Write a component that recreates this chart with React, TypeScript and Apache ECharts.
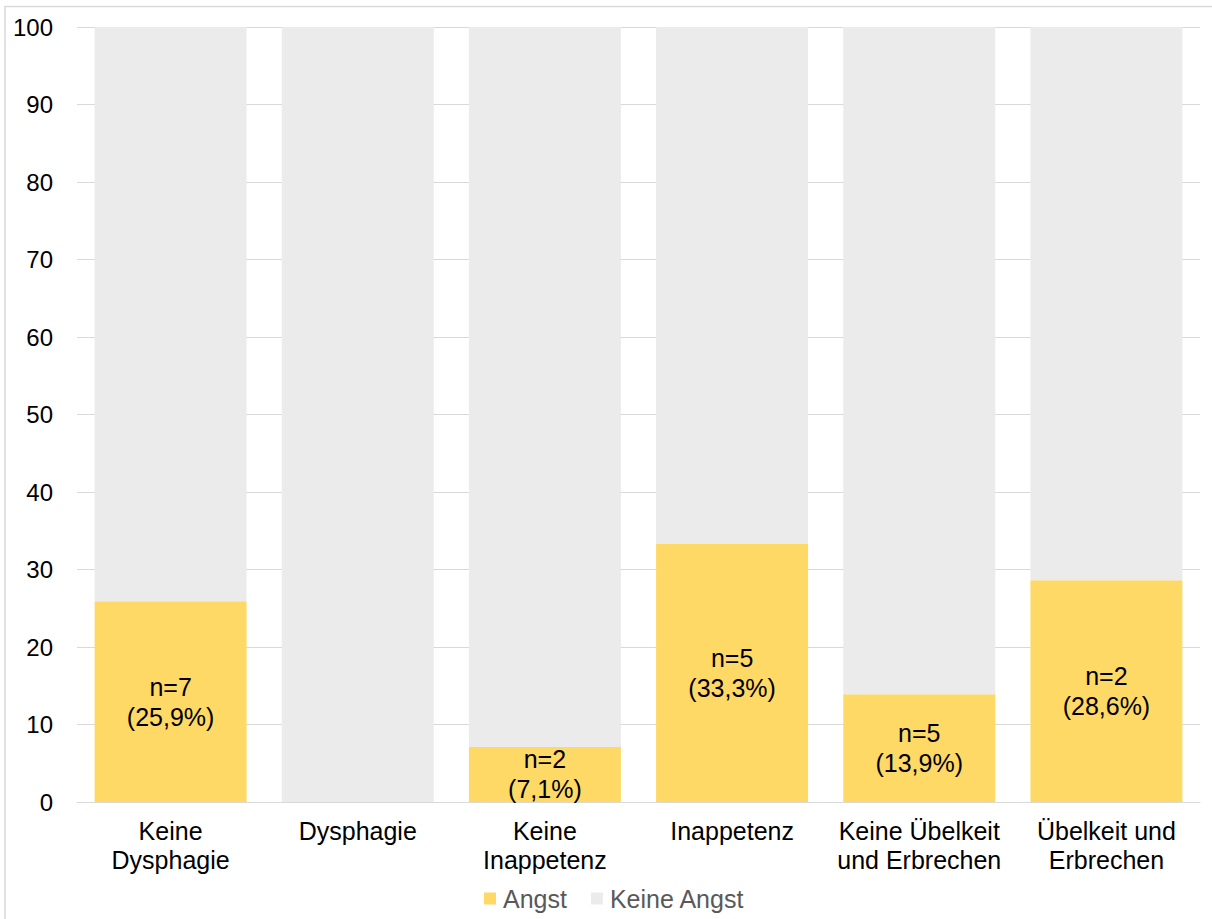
import React, { useEffect, useRef } from "react";
import * as echarts from "echarts";

// Symptom groups on the x axis
const categories = [
  "Keine\nDysphagie",
  "Dysphagie",
  "Keine\nInappetenz",
  "Inappetenz",
  "Keine Übelkeit\nund Erbrechen",
  "Übelkeit und\nErbrechen",
];

// Share (%) of patients with anxiety per group, and the counts behind them
const angstPercent = [25.9, 0, 7.1, 33.3, 13.9, 28.6];
const angstCount = [7, 0, 2, 5, 5, 2];
// Share (%) without anxiety
const keineAngstPercent = [74.1, 100, 92.9, 66.7, 86.1, 71.4];

const yTicks = { min: 0, max: 100, interval: 10 };

const FONT = "'Liberation Sans', Arial, sans-serif";

export default function App() {
  const ref = useRef<HTMLDivElement>(null);

  useEffect(() => {
    if (!ref.current) return;
    const chart = echarts.init(ref.current, undefined, { renderer: "svg" });
    chart.setOption({
      animation: false,
      backgroundColor: "#ffffff",
      textStyle: { fontFamily: FONT },
      graphic: [
        {
          type: "rect",
          shape: { x: 5, y: 6.5, width: 1240, height: 960 },
          style: { fill: "none", stroke: "#d9d9d9", lineWidth: 1.5 },
          silent: true,
        },
      ],
      grid: { left: 77, right: 12, top: 27, bottom: 117, containLabel: false },
      legend: {
        left: 479,
        top: 881,
        itemWidth: 12,
        itemHeight: 12,
        itemGap: 24,
        icon: "rect",
        textStyle: { fontSize: 25, color: "#595959", fontFamily: FONT, padding: [0, 0, 0, 2] },
        data: ["Angst", "Keine Angst"],
      },
      xAxis: {
        type: "category",
        data: categories,
        axisTick: { show: false },
        axisLine: { lineStyle: { color: "#d9d9d9", width: 1 } },
        axisLabel: {
          fontSize: 25,
          lineHeight: 29,
          color: "#000000",
          margin: 14,
          interval: 0,
          fontFamily: FONT,
        },
      },
      yAxis: {
        type: "value",
        min: yTicks.min,
        max: yTicks.max,
        interval: yTicks.interval,
        axisLine: { show: false },
        axisTick: { show: false },
        axisLabel: { fontSize: 24, color: "#000000", margin: 24, fontFamily: FONT },
        splitLine: { lineStyle: { color: "#d9d9d9", width: 1 } },
      },
      series: [
        {
          name: "Angst",
          type: "bar",
          stack: "total",
          barCategoryGap: "18.8%",
          itemStyle: { color: "#ffd966" },
          data: angstPercent.map((v) => ({
            value: v,
            label: { show: v > 0 },
          })),
          label: {
            show: true,
            position: "inside",
            fontSize: 25,
            lineHeight: 30,
            color: "#000000",
            fontFamily: FONT,
            formatter: (p: any) =>
              `n=${angstCount[p.dataIndex]}\n(${angstPercent[p.dataIndex]
                .toFixed(1)
                .replace(".", ",")}%)`,
          },
        },
        {
          name: "Keine Angst",
          type: "bar",
          stack: "total",
          barCategoryGap: "18.8%",
          itemStyle: { color: "#ebebeb" },
          data: keineAngstPercent,
        },
      ],
    });
    return () => chart.dispose();
  }, []);

  return (
    <div
      ref={ref}
      style={{ position: "fixed", left: 0, top: 0, width: 1212, height: 919 }}
    />
  );
}
